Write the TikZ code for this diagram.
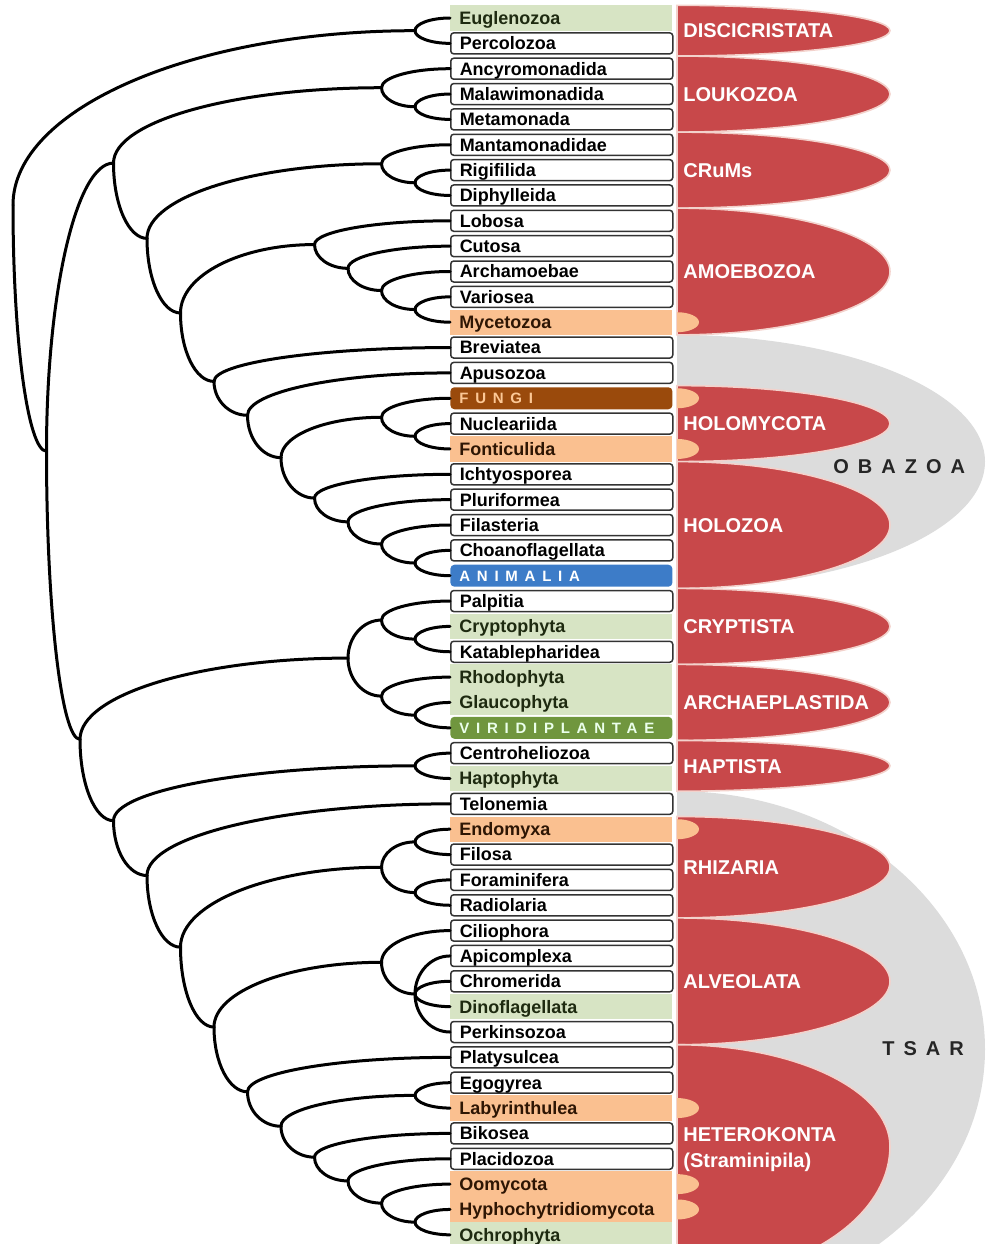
\documentclass[tikz,border=0pt]{standalone}
\usepackage{fontspec}
\setmainfont{Liberation Sans}
\usetikzlibrary{calc}
\definecolor{lobered}{HTML}{C8484A}
\definecolor{loberim}{HTML}{F3D2CC}
\definecolor{obagray}{HTML}{DCDCDC}
\definecolor{leafgreen}{HTML}{D7E4C4}
\definecolor{leaforange}{HTML}{FAC090}
\definecolor{greenink}{HTML}{1E2A10}
\definecolor{orangeink}{HTML}{2E1604}
\definecolor{fungibrown}{HTML}{9A4A0C}
\definecolor{fungitext}{HTML}{FCC896}
\definecolor{animblue}{HTML}{3D7CC8}
\definecolor{plantgreen}{HTML}{70963E}
\definecolor{boxrim}{HTML}{333333}

% quarter-ellipse elbow from a node to one of its children
\newcommand{\clade}[2]{\draw[branch] (#1) .. controls ($(#1)!.5523!(#1|-#2)$) and ($(#2)!.5523!(#1|-#2)$) .. (#2);}
% half-lobe on the right: style, top, x radius, upper and lower y radius
\newcommand{\lobe}[5]{\path[#1] (677,#2) arc[start angle=-90,end angle=0,x radius=#3,y radius=#4]
  arc[start angle=0,end angle=90,x radius=#3,y radius=#5] -- cycle;}
\newcommand{\blob}[1]{\fill[leaforange] (677,#1-10) arc[start angle=-90,end angle=90,x radius=22,y radius=10] -- cycle;}

\begin{document}
\begin{tikzpicture}[x=0.5pt, y=-0.5pt,
    branch/.style={line width=1.5pt, line cap=round, black},
    leafbase/.style={anchor=west, minimum width=111pt, text width=102pt, inner xsep=4.5pt, inner ysep=0pt,
                     align=left, text height=6.4pt, text depth=0pt, font=\fontsize{9}{10}\selectfont\bfseries},
    whiteleaf/.style={leafbase, draw=boxrim, line width=0.75pt, fill=white, rounded corners=1.5pt,
                      minimum height=10.5pt, text=black},
    greenleaf/.style={leafbase, fill=leafgreen, minimum height=12.7pt, text=greenink},
    orangeleaf/.style={leafbase, fill=leaforange, minimum height=12.7pt, text=orangeink},
    kingdom/.style={leafbase, rounded corners=2pt, minimum height=11pt, text height=5.4pt,
                    font=\fontsize{7.5}{9}\selectfont\bfseries\addfontfeature{LetterSpace=45}},
    fungileaf/.style={kingdom, fill=fungibrown, text=fungitext},
    animleaf/.style={kingdom, fill=animblue, text=white},
    plantleaf/.style={kingdom, fill=plantgreen, text=white!92!green},
    redlobe/.style={fill=lobered, draw=loberim, line width=0.8pt},
    graylobe/.style={fill=obagray},
    grouplabel/.style={anchor=west, inner sep=0pt, text=white, text height=7.2pt, text depth=0pt,
                       font=\fontsize{10}{12}\selectfont\bfseries},
    superlabel/.style={anchor=west, inner sep=0pt, text=black!85,
                       font=\fontsize{10}{12}\selectfont\bfseries\addfontfeature{LetterSpace=45}}]
  \useasboundingbox (0,0) rectangle (988,1244);
  \clip (0,0) rectangle (988,1244);

  % supergroups and groups
  \lobe{graylobe}{334.9}{308}{126.7}{126.7}
  \lobe{graylobe}{791.2}{308}{258}{258}
  \lobe{redlobe}{5.3}{213}{25.35}{25.35}
  \lobe{redlobe}{56.0}{213}{38.05}{38.05}
  \lobe{redlobe}{132.1}{213}{38}{38}
  \lobe{redlobe}{208.1}{213}{63.4}{63.4}
  \lobe{redlobe}{385.6}{213}{38}{38}
  \lobe{redlobe}{461.6}{213}{63.4}{63.4}
  \lobe{redlobe}{588.4}{213}{38}{38}
  \lobe{redlobe}{664.4}{213}{38}{38}
  \lobe{redlobe}{740.5}{213}{25.35}{25.35}
  \lobe{redlobe}{816.5}{213}{50.7}{50.7}
  \lobe{redlobe}{917.9}{213}{63.4}{63.4}
  \lobe{redlobe}{1044.7}{213}{101.4}{134}
  \foreach \y in {322.2,398.25,448.95,829.2,1108.05,1184.1,1209.45}
    {\blob{\y}}

  \node[grouplabel] (discl) at (683,30.7) {DISCICRISTATA};
  \node[grouplabel] (loukl) at (683,94.05) {LOUKOZOA};
  \node[grouplabel] (cruml) at (683,170.1) {CRuMs};
  \node[grouplabel] (amoel) at (683,271.5) {AMOEBOZOA};
  \node[grouplabel] (holml) at (683,423.6) {HOLOMYCOTA};
  \node[grouplabel] (holzl) at (683,525) {HOLOZOA};
  \node[grouplabel] (cryptl) at (683,626.4) {CRYPTISTA};
  \node[grouplabel] (archl) at (683,702.45) {ARCHAEPLASTIDA};
  \node[grouplabel] (haptl) at (683,765.8) {HAPTISTA};
  \node[grouplabel] (rhizl) at (683,867.2) {RHIZARIA};
  \node[grouplabel] (alvl) at (683,981.3) {ALVEOLATA};
  \node[grouplabel] (hetl) at (683,1134) {HETEROKONTA};
  \node[grouplabel] (straml) at (683,1160) {(Straminipila)};
  \node[superlabel] (obazl) at (833,467) {OBAZOA};
  \node[superlabel] (tsarl) at (882,1049) {TSAR};

  % leaves
  \foreach \nm/\txt/\sty [count=\i] in {
      euglenozoa/Euglenozoa/greenleaf, percolozoa/Percolozoa/whiteleaf,
      ancyro/Ancyromonadida/whiteleaf, malawi/Malawimonadida/whiteleaf, metamon/Metamonada/whiteleaf,
      manta/Mantamonadidae/whiteleaf, rigi/Rigifilida/whiteleaf, diphy/Diphylleida/whiteleaf,
      lobosa/Lobosa/whiteleaf, cutosa/Cutosa/whiteleaf, archam/Archamoebae/whiteleaf,
      variosea/Variosea/whiteleaf, myceto/Mycetozoa/orangeleaf,
      brevi/Breviatea/whiteleaf, apusozoa/Apusozoa/whiteleaf,
      fungi/FUNGI/fungileaf, nuclea/Nucleariida/whiteleaf, fontic/Fonticulida/orangeleaf,
      ichty/Ichtyosporea/whiteleaf, pluri/Pluriformea/whiteleaf, filast/Filasteria/whiteleaf,
      choano/Choanoflagellata/whiteleaf, animalia/ANIMALIA/animleaf,
      palpitia/Palpitia/whiteleaf, cryptophyta/Cryptophyta/greenleaf, katable/Katablepharidea/whiteleaf,
      rhodo/Rhodophyta/greenleaf, glauco/Glaucophyta/greenleaf, viridi/VIRIDIPLANTAE/plantleaf,
      centro/Centroheliozoa/whiteleaf, haptophyta/Haptophyta/greenleaf,
      telonemia/Telonemia/whiteleaf,
      endomyxa/Endomyxa/orangeleaf, filosa/Filosa/whiteleaf, forami/Foraminifera/whiteleaf,
      radiol/Radiolaria/whiteleaf,
      cilio/Ciliophora/whiteleaf, apicom/Apicomplexa/whiteleaf, chromer/Chromerida/whiteleaf,
      dinofl/Dinoflagellata/greenleaf, perkins/Perkinsozoa/whiteleaf,
      platys/Platysulcea/whiteleaf, egogy/Egogyrea/whiteleaf, labyr/Labyrinthulea/orangeleaf,
      bikosea/Bikosea/whiteleaf, placido/Placidozoa/whiteleaf, oomyc/Oomycota/orangeleaf,
      hypho/Hyphochytridiomycota/orangeleaf, ochro/Ochrophyta/greenleaf}
    {\node[\sty] (\nm) at (450,{18+(\i-1)*25.35}) {\txt};}

  % internal nodes
  \coordinate (root) at (13,205);
  \coordinate (core) at (46.5,451.22);
  \coordinate (disc) at (415,30.68);
  \coordinate (podi) at (113.5,163.05);
  \coordinate (louk) at (381.5,87.71);
  \coordinate (louk2) at (415,106.73);
  \coordinate (crumamor) at (147,238.38);
  \coordinate (crum) at (381.5,163.76);
  \coordinate (crum2) at (415,182.78);
  \coordinate (amor) at (180.5,312.99);
  \coordinate (amo1) at (314.5,244.56);
  \coordinate (amo2) at (348,268.33);
  \coordinate (amo3) at (381.5,290.51);
  \coordinate (amo4) at (415,309.53);
  \coordinate (obaz) at (214,381.42);
  \coordinate (apus) at (247.5,415.28);
  \coordinate (opis) at (281,457.66);
  \coordinate (holm1) at (381.5,417.26);
  \coordinate (holm2) at (415,436.28);
  \coordinate (holz1) at (314.5,498.06);
  \coordinate (holz2) at (348,521.83);
  \coordinate (holz3) at (381.5,544.01);
  \coordinate (holz4) at (415,563.03);
  \coordinate (diaph) at (80,739.38);
  \coordinate (crar) at (348,658.09);
  \coordinate (crypt) at (381.5,620.06);
  \coordinate (crypt2) at (415,639.08);
  \coordinate (arch) at (381.5,696.11);
  \coordinate (arch2) at (415,715.13);
  \coordinate (hatsar) at (113.5,820.67);
  \coordinate (hapt) at (415,765.83);
  \coordinate (tsar) at (147,875.5);
  \coordinate (sar) at (180.5,947.14);
  \coordinate (rhiz) at (381.5,867.23);
  \coordinate (rhiz1) at (415,841.88);
  \coordinate (rhiz2) at (415,892.58);
  \coordinate (sa) at (214,1027.05);
  \coordinate (alv) at (381.5,962.29);
  \coordinate (alv2) at (415,993.98);
  \coordinate (het) at (247.5,1091.81);
  \coordinate (het3) at (281,1126.27);
  \coordinate (hetlab) at (415,1095.38);
  \coordinate (het4) at (314.5,1157.17);
  \coordinate (het5) at (348,1180.93);
  \coordinate (het6) at (381.5,1203.11);
  \coordinate (het7) at (415,1222.13);

  % branches
  \foreach \p/\c in {root/disc, root/core, disc/euglenozoa.west, disc/percolozoa.west,
      core/podi, core/diaph, podi/louk, podi/crumamor,
      louk/ancyro.west, louk/louk2, louk2/malawi.west, louk2/metamon.west,
      crumamor/crum, crumamor/amor, crum/manta.west, crum/crum2, crum2/rigi.west, crum2/diphy.west,
      amor/amo1, amor/obaz, amo1/lobosa.west, amo1/amo2, amo2/cutosa.west, amo2/amo3,
      amo3/archam.west, amo3/amo4, amo4/variosea.west, amo4/myceto.west,
      obaz/brevi.west, obaz/apus, apus/apusozoa.west, apus/opis, opis/holm1, opis/holz1,
      holm1/fungi.west, holm1/holm2, holm2/nuclea.west, holm2/fontic.west,
      holz1/ichty.west, holz1/holz2, holz2/pluri.west, holz2/holz3,
      holz3/filast.west, holz3/holz4, holz4/choano.west, holz4/animalia.west,
      diaph/crar, diaph/hatsar, crar/crypt, crar/arch,
      crypt/palpitia.west, crypt/crypt2, crypt2/cryptophyta.west, crypt2/katable.west,
      arch/rhodo.west, arch/arch2, arch2/glauco.west, arch2/viridi.west,
      hatsar/hapt, hatsar/tsar, hapt/centro.west, hapt/haptophyta.west,
      tsar/telonemia.west, tsar/sar, sar/rhiz, sar/sa,
      rhiz/rhiz1, rhiz/rhiz2, rhiz1/endomyxa.west, rhiz1/filosa.west,
      rhiz2/forami.west, rhiz2/radiol.west,
      sa/alv, sa/het, alv/cilio.west, alv/alv2,
      alv2/apicom.west, alv2/chromer.west, alv2/dinofl.west, alv2/perkins.west,
      het/platys.west, het/het3, het3/hetlab, het3/het4,
      hetlab/egogy.west, hetlab/labyr.west, het4/bikosea.west, het4/het5,
      het5/placido.west, het5/het6, het6/oomyc.west, het6/het7,
      het7/hypho.west, het7/ochro.west}
    {\clade{\p}{\c}}
\end{tikzpicture}
\end{document}
